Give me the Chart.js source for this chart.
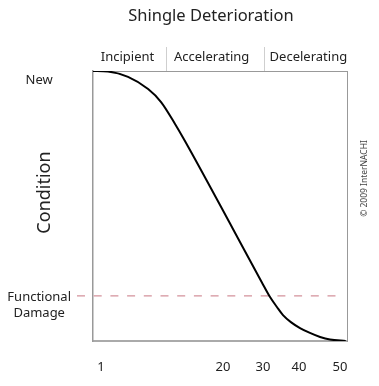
<!DOCTYPE html>
<html><head><meta charset="utf-8">
<script src="https://cdn.jsdelivr.net/npm/chart.js@4"></script>
<style>html,body{margin:0;padding:0;background:#fff}#wrap{width:379px;height:386px;position:relative}</style>
</head><body><div id="wrap"><canvas id="c"></canvas></div>
<script>
// ---- data ----
const chartTitle = 'Shingle Deterioration';
const yAxisTitle = 'Condition';
const credit = '\u00A9 2009 InterNACHI';
// position along service life (normalized 0-100) and condition (0-100)
const lifeX      = [0, 5.9, 13.8, 21.7, 26.8, 32.3, 36.2, 55, 66.5, 69.7, 72.4, 74.8, 77.9, 81.5, 85.4, 89.4, 93.3, 99.5];
const conditionY = [100, 99.8, 97.8, 93.3, 88.5, 80.4, 74.1, 41.7, 21.7, 16.3, 12.6, 9.6, 7.0, 4.8, 3.0, 1.5, 0.55, 0];
// age tick labels (years) and where they sit on the life axis
const ageLabels = ['1', '20', '30', '40', '50'];
const ageAt     = [3.1, 51.2, 66.9, 81.1, 97.2];
// stages
const stageLabels = ['Incipient', 'Accelerating', 'Decelerating'];
const stageAt     = [13.6, 46.7, 84.8];
const stageBounds = [29.1, 67.5];
// condition labels
const conditionLabels = ['New', ['Functional', 'Damage']];
const conditionAt     = [96.7, 13.3];
const damageLevel = 16.7;
const damageSpan  = [-6.3, 97.2];

Chart.defaults.font.family = '"Noto Sans", sans-serif';
Chart.defaults.color = '#222';

const curve = lifeX.map((x, i) => ({x: x, y: conditionY[i]}));
const damageLine = damageSpan.map(x => ({x: x, y: damageLevel}));

const textPlugin = {
  id: 'extraText',
  afterDraw(chart) {
    const ctx = chart.ctx, a = chart.chartArea;
    ctx.save();
    ctx.textAlign = 'center';
    ctx.textBaseline = 'middle';
    ctx.fillStyle = '#222';
    ctx.font = '18px "Noto Sans", sans-serif';
    ctx.save();
    ctx.translate(a.left - 48, (a.top + a.bottom) / 2 - 13.5);
    ctx.rotate(-Math.PI / 2);
    ctx.fillText(yAxisTitle, 0, 0);
    ctx.restore();
    ctx.fillStyle = '#444';
    ctx.font = '8.5px "Noto Sans", sans-serif';
    ctx.translate(a.right + 18, 178.5);
    ctx.rotate(-Math.PI / 2);
    ctx.fillText(credit, 0, 0);
    ctx.restore();
  }
};

new Chart(document.getElementById('c'), {
  type: 'line',
  data: {
    datasets: [
      {
        data: curve,
        borderColor: '#000',
        borderWidth: 2,
        pointRadius: 0,
        cubicInterpolationMode: 'monotone',
        fill: false
      },
      {
        data: damageLine,
        borderColor: '#d4919b',
        borderWidth: 1.2,
        borderDash: [8, 8.7],
        pointRadius: 0,
        clip: false,
        fill: false
      }
    ]
  },
  options: {
    responsive: true,
    maintainAspectRatio: false,
    animation: false,
    layout: {padding: {left: 0, right: -43, top: 0, bottom: 0}},
    plugins: {
      legend: {display: false},
      tooltip: {enabled: false},
      title: {
        display: true,
        text: chartTitle,
        color: '#222',
        font: {size: 16.5, weight: 'normal'},
        padding: {top: 6, bottom: 10}
      }
    },
    scales: {
      x: {
        type: 'linear', position: 'bottom', min: 0, max: 100,
        grid: {display: false, drawTicks: false},
        border: {display: true, color: '#aaa', width: 2},
        afterBuildTicks: s => { s.ticks = ageAt.map((v, i) => ({value: v, lab: ageLabels[i]})); },
        afterFit: s => { s.height = 45; },
        ticks: {
          autoSkip: false, maxRotation: 0, padding: 18,
          font: {size: 13},
          callback: (v, i, t) => t[i].lab
        }
      },
      xTop: {
        type: 'linear', position: 'top', min: 0, max: 100,
        grid: {
          display: true, drawOnChartArea: false, drawTicks: true, tickLength: 24, lineWidth: 1,
          color: c => (c.tick && c.tick.lab === '') ? '#cfcfcf' : 'rgba(0,0,0,0)'
        },
        border: {display: true, color: '#999', width: 1},
        afterBuildTicks: s => {
          const t = stageAt.map((v, i) => ({value: v, lab: stageLabels[i]}))
            .concat(stageBounds.map(v => ({value: v, lab: ''})));
          t.sort((a, b) => a.value - b.value);
          s.ticks = t;
        },
        afterFit: s => { s.height = 35.2; },
        ticks: {
          autoSkip: false, maxRotation: 0, padding: -18.5,
          font: {size: 13},
          callback: (v, i, t) => t[i].lab
        }
      },
      y: {
        type: 'linear', position: 'left', min: 0, max: 100,
        grid: {display: false, drawTicks: false},
        border: {display: true, color: '#999', width: 1.5},
        afterBuildTicks: s => {
          const t = conditionAt.map((v, i) => ({value: v, lab: conditionLabels[i]}));
          t.sort((a, b) => a.value - b.value);
          s.ticks = t;
        },
        afterFit: s => { s.width = 93; },
        ticks: {
          autoSkip: false, padding: 22, crossAlign: 'center',
          font: {size: 13, lineHeight: 1.23},
          callback: (v, i, t) => t[i].lab
        }
      },
      yR: {
        type: 'linear', position: 'right', min: 0, max: 100,
        grid: {display: false, drawTicks: false},
        border: {display: true, color: '#999', width: 1},
        ticks: {display: false},
        afterFit: s => { s.width = 75; }
      }
    }
  },
  plugins: [textPlugin]
});
</script>
</body></html>
